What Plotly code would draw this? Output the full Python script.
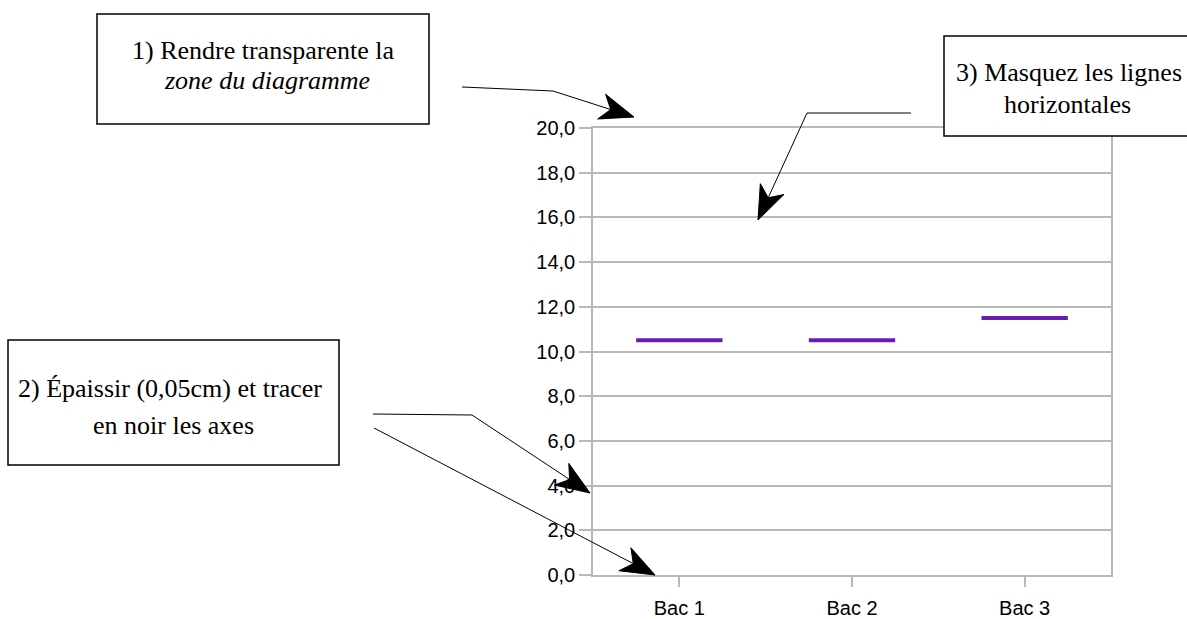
import plotly.graph_objects as go

# ---- data ----
categories = ["Bac 1", "Bac 2", "Bac 3"]
values = [10.5, 10.5, 11.5]
y_ticks = [0, 2, 4, 6, 8, 10, 12, 14, 16, 18, 20]

box_texts = [
    ["1) Rendre transparente la", "zone du diagramme"],
    ["2) Épaissir (0,05cm) et tracer", "en noir les axes"],
    ["3) Masquez les lignes", "horizontales"],
]
box_styles = [["normal", "italic"], ["normal", "normal"], ["normal", "normal"]]

SERIF = "Liberation Serif, Tinos, Times New Roman, DejaVu Serif, serif"

# ---- layout geometry (pixels) ----
W, H = 1187, 619
L, R, T, B = 593, 1111, 128, 575
PW, PH = R - L, B - T


def px(x):
    return (x - L) / PW


def py(y):
    return (B - y) / PH


# segments built from the data through the x scale
xs, ys = [], []
half = 0.25
for i, v in enumerate(values):
    xs += [i - half, i + half, None]
    ys += [v, v, None]

fig = go.Figure()
fig.add_trace(go.Scatter(x=xs, y=ys, mode="lines",
                         line=dict(color="#6a1cb2", width=4),
                         hoverinfo="skip", showlegend=False))

shapes = []
annotations = []

# text boxes (pixel rectangles)
boxes = [(97, 14, 429, 124), (8, 340, 339, 465), (944, 36, 1195, 136)]
line_pos = [
    [(263, 50), (267, 81)],
    [(170, 389), (173.5, 425)],
    [(1069, 73), (1067, 105)],
]
for (x0, y0, x1, y1), texts, pos, styles in zip(boxes, box_texts, line_pos, box_styles):
    shapes.append(dict(type="rect", xref="paper", yref="paper",
                       x0=px(x0), x1=px(x1), y0=py(y0), y1=py(y1),
                       line=dict(color="black", width=1.5),
                       fillcolor="white", layer="above"))
    for t, (cx, cy), st in zip(texts, pos, styles):
        annotations.append(dict(text=t, xref="paper", yref="paper",
                                x=px(cx), y=py(cy), xanchor="center",
                                yanchor="middle", showarrow=False,
                                font=dict(family=SERIF, size=26,
                                          color="black", style=st)))

# arrows: polylines + dart heads
arrows = [
    [(462, 87), (553, 91), (634, 117)],
    [(911, 113), (807, 113), (758, 220)],
    [(373, 414), (472, 415), (590, 493)],
    [(374, 428), (655, 575)],
]
for pts in arrows:
    path = "M " + " L ".join(f"{px(x)},{py(y)}" for x, y in pts)
    shapes.append(dict(type="path", xref="paper", yref="paper", path=path,
                       line=dict(color="black", width=1)))
    (ax, ay), (tx, ty) = pts[-2], pts[-1]
    dx, dy = tx - ax, ty - ay
    n = (dx * dx + dy * dy) ** 0.5
    dx, dy = dx / n, dy / n
    nx, ny = -dy, dx
    Lh, Wh = 34, 13
    bx, by = tx - Lh * dx, ty - Lh * dy
    p1 = (bx + Wh * nx, by + Wh * ny)
    p2 = (tx - 0.72 * Lh * dx, ty - 0.72 * Lh * dy)
    p3 = (bx - Wh * nx, by - Wh * ny)
    head = [(tx, ty), p1, p2, p3]
    hpath = "M " + " L ".join(f"{px(x)},{py(y)}" for x, y in head) + " Z"
    shapes.append(dict(type="path", xref="paper", yref="paper", path=hpath,
                       line=dict(color="black", width=1), fillcolor="black"))

axis_gray = "#b8b8b8"
fig.update_layout(
    width=W, height=H,
    margin=dict(l=L, r=W - R, t=T, b=H - B, pad=0, autoexpand=False),
    paper_bgcolor="white", plot_bgcolor="white",
    separators=", ",
    showlegend=False,
    shapes=shapes,
    annotations=annotations,
    font=dict(family="Liberation Sans", size=20, color="black"),
)
fig.update_xaxes(
    range=[-0.5, 2.5], tickmode="array",
    tickvals=list(range(len(categories))), ticktext=categories,
    showgrid=False, zeroline=False, automargin=False,
    showline=True, linecolor=axis_gray, linewidth=1.5, mirror=True,
    ticks="outside", ticklen=10, tickcolor=axis_gray, tickwidth=1.5,
    ticklabelstandoff=4,
    tickfont=dict(family="Liberation Sans", size=20, color="black"),
    fixedrange=True,
)
fig.update_yaxes(
    range=[0, 20], tickmode="array", tickvals=y_ticks,
    tickformat=".1f",
    showgrid=True, gridcolor=axis_gray, gridwidth=1.5, zeroline=False,
    automargin=False,
    showline=True, linecolor=axis_gray, linewidth=1.5, mirror=True,
    ticks="outside", ticklen=12, tickcolor=axis_gray, tickwidth=1.5,
    tickfont=dict(family="Liberation Sans", size=20, color="black"),
    fixedrange=True,
)

fig.write_html("out.html", config={"displayModeBar": False})
